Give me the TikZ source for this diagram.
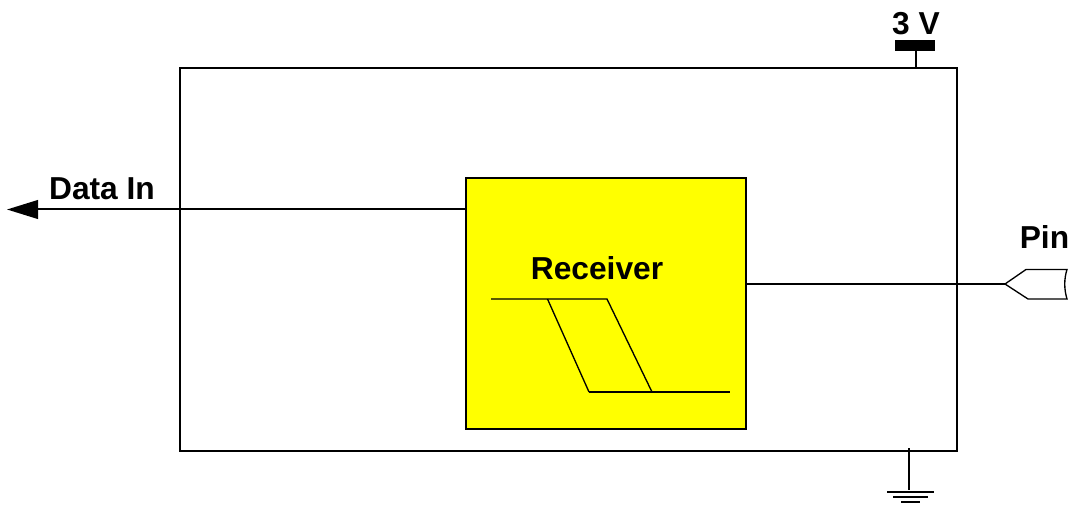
\documentclass[tikz,border=0pt]{standalone}
\usepackage{fontspec}
\setmainfont{Liberation Sans}
\usetikzlibrary{arrows.meta}
\definecolor{recvyellow}{RGB}{255,255,0}
\tikzset{
  x=0.75pt,y=-0.75pt,
  wire/.style={draw=black,line width=1.5pt},
  thin wire/.style={draw=black,line width=1pt},
  gnd wire/.style={draw=black,line width=1.8pt},
  block/.style={draw=black,line width=1.5pt,inner sep=0pt,outer sep=0pt,rectangle},
  lbl/.style={inner sep=0pt,font=\fontsize{23.8pt}{26pt}\selectfont\bfseries,anchor=base},
  bigtip/.style={-{Triangle[length=23.25pt,width=14pt]}}
}
\begin{document}
\begin{tikzpicture}
\useasboundingbox (0,0) rectangle (1068,506);
% main blocks
\node[block,minimum width=582.75pt,minimum height=287.25pt] (chip) at (568.5,259.5) {};
\node[block,fill=recvyellow,minimum width=210pt,minimum height=188.25pt] (recv) at (606,303.5) {};
% labels
\node[lbl] (receiverlabel) at (597,279) {Receiver};
\node[lbl] (datalabel) at (102,200) {Data In};
\node[lbl] (pinlabel) at (1044.5,248) {Pin};
\node[lbl] (vlabel) at (916,35) {3 V};
% data output
\coordinate (recvdata) at (466,209.5);
\coordinate (datatip) at (7,209.5);
\draw[wire,bigtip] (recvdata) -- (datatip);
% pin
\coordinate (recvpin) at (746,284);
\coordinate (pintip) at (1005,284);
\draw[wire] (recvpin) -- (pintip);
\draw[thin wire,line join=miter] (pintip) -- (1026,269.5) -- (1067,269.5)
  .. controls (1064,279) and (1064,289) .. (1067,299) -- (1028,299) -- cycle;
% supply
\node[fill=black,inner sep=0pt,minimum width=30pt,minimum height=8.25pt] (vbar) at (915,45.5) {};
\coordinate (vchip) at (916,68);
\draw[wire] (vbar.south -| vchip) -- (vchip);
% ground
\coordinate (gndtop) at (909,448);
\coordinate (gndbot) at (909,490);
\draw[wire] (gndtop) -- (gndbot);
\draw[gnd wire] (887,492) -- (934,492);
\draw[gnd wire] (893,497) -- (928,497);
\draw[gnd wire] (901,502) -- (920,502);
% hysteresis
\draw[thin wire] (491,299) -- (607,299) -- (652,392);
\draw[thin wire] (547.5,299) -- (589,392);
\draw[wire] (589,392) -- (730,392);
\end{tikzpicture}
\end{document}
